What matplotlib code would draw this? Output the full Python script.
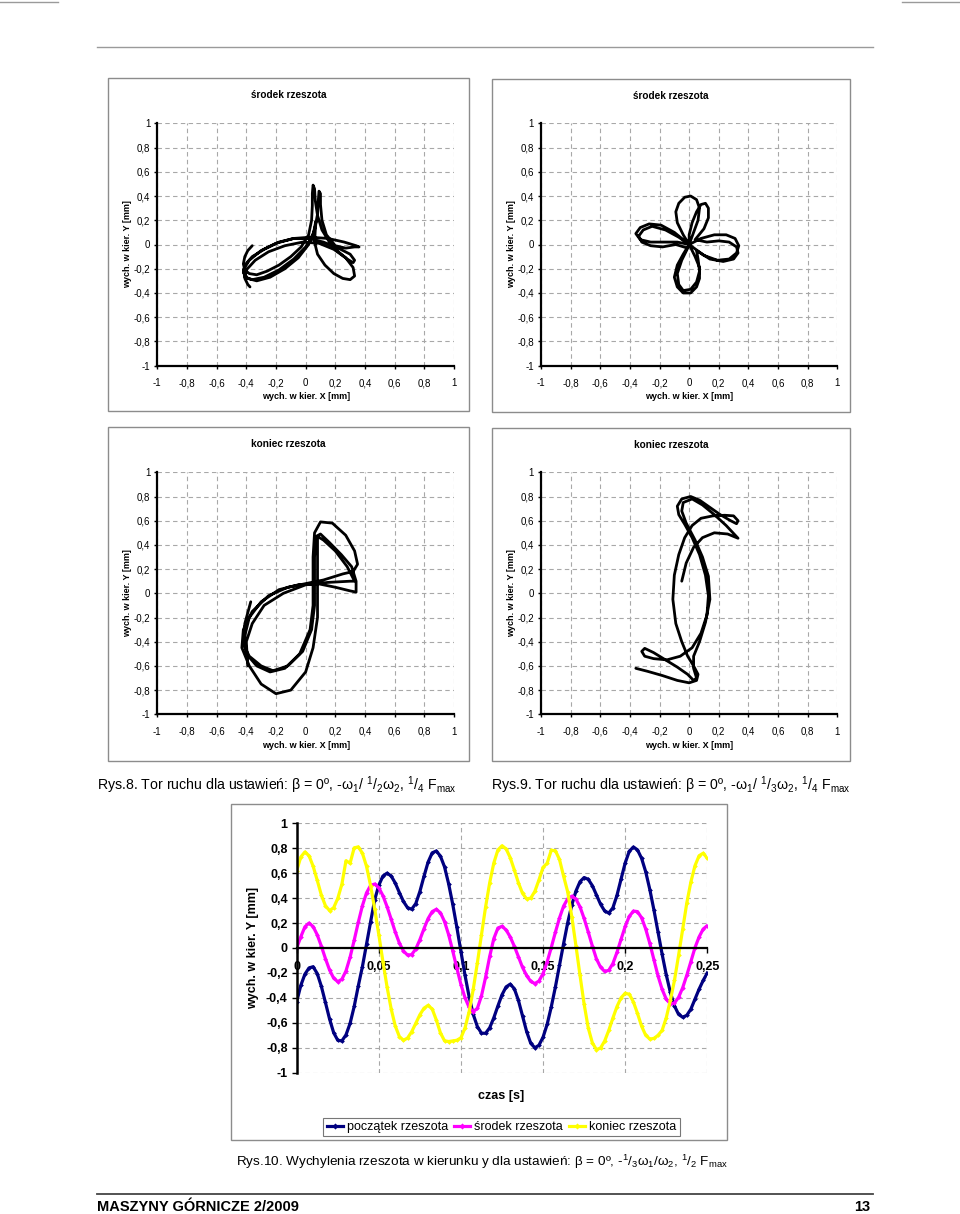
import matplotlib
matplotlib.use('Agg')
import matplotlib.pyplot as plt
from matplotlib.patches import Rectangle
from matplotlib.lines import Line2D
import numpy as np

plt.rcParams['font.family'] = ['Liberation Sans', 'DejaVu Sans']
plt.rcParams['mathtext.fontset'] = 'custom'
plt.rcParams['mathtext.rm'] = 'Liberation Sans'
plt.rcParams['mathtext.it'] = 'Liberation Sans'
plt.rcParams['mathtext.bf'] = 'Liberation Sans:bold'

# ---------------- data ----------------
axis_ticks = [-1, -0.8, -0.6, -0.4, -0.2, 0, 0.2, 0.4, 0.6, 0.8, 1]
axis_tick_labels = ['-1', '-0,8', '-0,6', '-0,4', '-0,2', '0', '0,2', '0,4', '0,6', '0,8', '1']

# Rys.8 srodek rzeszota (x, y)
r8_srodek = [
    (-0.36, -0.01), (-0.39, -0.05), (-0.41, -0.10), (-0.42, -0.16), (-0.41, -0.21), (-0.38, -0.24),
    (-0.33, -0.25), (-0.26, -0.22), (-0.18, -0.17), (-0.10, -0.10), (-0.03, -0.02), (0.02, 0.08),
    (0.04, 0.20), (0.045, 0.32), (0.045, 0.42), (0.05, 0.49), (0.06, 0.46), (0.065, 0.36), (0.08, 0.24),
    (0.11, 0.12), (0.16, 0.02), (0.22, -0.06), (0.28, -0.12), (0.32, -0.15), (0.33, -0.13), (0.30, -0.08),
    (0.22, -0.03), (0.12, 0.02), (0.02, 0.05), (-0.08, 0.05), (-0.18, 0.02), (-0.28, -0.04), (-0.36, -0.10),
    (-0.41, -0.17), (-0.42, -0.23), (-0.39, -0.28), (-0.33, -0.30), (-0.24, -0.27), (-0.14, -0.20),
    (-0.05, -0.11), (0.02, 0.0), (0.06, 0.12), (0.08, 0.25), (0.085, 0.36), (0.09, 0.44), (0.10, 0.42),
    (0.10, 0.33), (0.11, 0.20), (0.14, 0.08), (0.20, -0.01), (0.27, -0.03), (0.33, -0.02), (0.36, -0.02),
    (0.34, -0.01), (0.26, 0.02), (0.15, 0.05), (0.03, 0.06), (-0.08, 0.05), (-0.20, 0.01), (-0.30, -0.05),
    (-0.38, -0.13), (-0.42, -0.21), (-0.41, -0.27), (-0.36, -0.29), (-0.28, -0.27), (-0.18, -0.21),
    (-0.08, -0.12), (0.0, -0.02), (0.05, 0.08), (0.065, 0.17), (0.07, 0.19), (0.065, 0.12), (0.06, 0.02),
    (0.08, -0.08), (0.13, -0.17), (0.19, -0.24), (0.25, -0.28), (0.30, -0.29), (0.33, -0.26), (0.32, -0.19),
    (0.27, -0.11), (0.19, -0.04), (0.09, 0.01), (-0.02, 0.02), (-0.14, -0.01), (-0.25, -0.06), (-0.34, -0.13),
    (-0.40, -0.21), (-0.41, -0.28), (-0.39, -0.33), (-0.375, -0.35)]

# Rys.9 srodek rzeszota
r9_srodek = [
    (0, 0), (-0.04, 0.08), (-0.08, 0.18), (-0.09, 0.27), (-0.07, 0.34), (-0.03, 0.39), (0.01, 0.40),
    (0.05, 0.37), (0.07, 0.30), (0.06, 0.20), (0.03, 0.10), (0.0, 0.0),
    (0.08, 0.05), (0.17, 0.08), (0.25, 0.08), (0.31, 0.05), (0.335, -0.01), (0.32, -0.07), (0.27, -0.12),
    (0.19, -0.13), (0.10, -0.09), (0.0, 0.0),
    (0.04, -0.10), (0.07, -0.19), (0.07, -0.28), (0.05, -0.35), (0.01, -0.40), (-0.04, -0.40), (-0.08, -0.35),
    (-0.10, -0.27), (-0.08, -0.17), (-0.04, -0.08), (0.0, 0.0),
    (-0.08, 0.02), (-0.17, 0.02), (-0.26, 0.02), (-0.33, 0.04), (-0.36, 0.09), (-0.33, 0.14), (-0.27, 0.17),
    (-0.19, 0.16), (-0.10, 0.10), (0.0, 0.0),
    (0.0, 0.08), (0.02, 0.18), (0.05, 0.27), (0.08, 0.33), (0.11, 0.34), (0.13, 0.30), (0.13, 0.22),
    (0.10, 0.13), (0.04, 0.04),
    (0.12, 0.02), (0.20, 0.03), (0.27, 0.02), (0.32, -0.02), (0.33, -0.07), (0.30, -0.12), (0.23, -0.14),
    (0.14, -0.12), (0.05, -0.05),
    (0.06, -0.12), (0.07, -0.22), (0.05, -0.31), (0.01, -0.37), (-0.04, -0.38), (-0.07, -0.33), (-0.08, -0.24),
    (-0.05, -0.13), (-0.01, -0.03),
    (-0.09, 0.0), (-0.18, -0.02), (-0.26, -0.01), (-0.32, 0.02), (-0.34, 0.07), (-0.31, 0.12), (-0.25, 0.15),
    (-0.16, 0.12), (-0.07, 0.06), (0.0, 0.0)]

# Rys.8 koniec rzeszota
r8_koniec = [
    (-0.37, -0.07), (-0.41, -0.25), (-0.42, -0.42), (-0.38, -0.52), (-0.30, -0.60), (-0.22, -0.64),
    (-0.12, -0.60), (-0.02, -0.48), (0.04, -0.30), (0.06, -0.10), (0.06, 0.10), (0.06, 0.30), (0.07, 0.47),
    (0.10, 0.49), (0.16, 0.42), (0.24, 0.32), (0.31, 0.22), (0.34, 0.10), (0.34, 0.01), (0.30, 0.02),
    (0.20, 0.05), (0.08, 0.08), (-0.05, 0.07), (-0.18, 0.03), (-0.30, -0.07), (-0.38, -0.20), (-0.41, -0.35),
    (-0.40, -0.50), (-0.33, -0.60), (-0.24, -0.65), (-0.14, -0.62), (-0.04, -0.50), (0.03, -0.30),
    (0.05, -0.10), (0.05, 0.10), (0.05, 0.30), (0.06, 0.50), (0.10, 0.59), (0.18, 0.58), (0.27, 0.48),
    (0.33, 0.35), (0.35, 0.24), (0.32, 0.18), (0.25, 0.16), (0.12, 0.11), (0.0, 0.08), (-0.12, 0.05),
    (-0.25, -0.02), (-0.36, -0.15), (-0.42, -0.30), (-0.43, -0.45), (-0.38, -0.60), (-0.30, -0.75),
    (-0.20, -0.83), (-0.10, -0.80), (0.0, -0.65), (0.05, -0.45), (0.08, -0.20), (0.08, 0.05), (0.08, 0.30),
    (0.08, 0.47), (0.12, 0.44), (0.20, 0.35), (0.28, 0.22), (0.33, 0.10), (0.30, 0.10), (0.15, 0.09),
    (0.0, 0.07), (-0.15, 0.0), (-0.28, -0.10), (-0.36, -0.25), (-0.40, -0.40), (-0.39, -0.60)]

# Rys.9 koniec rzeszota
r9_koniec = [
    (-0.36, -0.62), (-0.28, -0.645), (-0.18, -0.68), (-0.08, -0.72), (0.0, -0.74), (0.05, -0.72),
    (0.06, -0.67), (0.03, -0.60), (-0.01, -0.52), (-0.05, -0.40), (-0.09, -0.25), (-0.11, -0.05),
    (-0.10, 0.15), (-0.07, 0.32), (-0.03, 0.46), (0.02, 0.56), (0.08, 0.62), (0.16, 0.64), (0.24, 0.645),
    (0.30, 0.64), (0.33, 0.60), (0.32, 0.575), (0.28, 0.60), (0.21, 0.65), (0.14, 0.71), (0.07, 0.77),
    (0.01, 0.80), (-0.05, 0.78), (-0.08, 0.72), (-0.07, 0.65), (-0.03, 0.57), (0.02, 0.46), (0.07, 0.32),
    (0.11, 0.15), (0.13, -0.02), (0.12, -0.18), (0.08, -0.33), (0.02, -0.45), (-0.06, -0.52), (-0.15, -0.55),
    (-0.24, -0.54), (-0.30, -0.52), (-0.32, -0.48), (-0.30, -0.455), (-0.24, -0.49), (-0.16, -0.55),
    (-0.08, -0.61), (-0.01, -0.67), (0.03, -0.72), (0.05, -0.70), (0.03, -0.62), (0.03, -0.52), (0.07, -0.40),
    (0.11, -0.24), (0.14, -0.05), (0.13, 0.14), (0.09, 0.30), (0.04, 0.44), (-0.02, 0.58), (-0.05, 0.68),
    (-0.04, 0.75), (0.02, 0.78), (0.09, 0.73), (0.17, 0.65), (0.25, 0.56), (0.33, 0.455), (0.26, 0.49),
    (0.17, 0.50), (0.09, 0.46), (0.03, 0.38), (-0.02, 0.25), (-0.05, 0.10)]

# Rys.10 time series
czas = [round(i * 0.0025, 4) for i in range(101)]
poczatek = [
    -0.43, -0.30, -0.21, -0.16, -0.15, -0.205, -0.307, -0.437, -0.569, -0.679,
    -0.74, -0.745, -0.697, -0.605, -0.469, -0.304, -0.15, 0.03, 0.21, 0.387,
    0.504, 0.577, 0.60, 0.578, 0.521, 0.445, 0.373, 0.323, 0.311, 0.356,
    0.453, 0.575, 0.689, 0.763, 0.778, 0.737, 0.651, 0.515, 0.351, 0.167,
    -0.029, -0.22, -0.392, -0.533, -0.63, -0.683, -0.684, -0.64, -0.56, -0.465,
    -0.375, -0.312, -0.29, -0.326, -0.42, -0.545, -0.67, -0.764, -0.80, -0.78,
    -0.715, -0.612, -0.472, -0.313, -0.139, 0.035, 0.203, 0.345, 0.456, 0.532,
    0.565, 0.551, 0.50, 0.426, 0.351, 0.297, 0.28, 0.322, 0.422, 0.553,
    0.682, 0.776, 0.81, 0.787, 0.719, 0.611, 0.469, 0.305, 0.128, -0.05,
    -0.214, -0.356, -0.464, -0.532, -0.555, -0.54, -0.49, -0.41, -0.33, -0.26,
    -0.20]
srodek = [
    0.0, 0.09, 0.17, 0.20, 0.172, 0.106, 0.015, -0.085, -0.176, -0.242,
    -0.27, -0.251, -0.184, -0.074, 0.062, 0.206, 0.339, 0.442, 0.502, 0.513,
    0.483, 0.42, 0.332, 0.232, 0.129, 0.04, -0.024, -0.057, -0.053, -0.008,
    0.067, 0.155, 0.236, 0.292, 0.31, 0.283, 0.212, 0.107, -0.023, -0.161,
    -0.293, -0.40, -0.476, -0.51, -0.484, -0.384, -0.235, -0.068, 0.075, 0.16,
    0.174, 0.145, 0.089, 0.014, -0.07, -0.156, -0.221, -0.268, -0.285, -0.265,
    -0.205, -0.111, 0.004, 0.126, 0.241, 0.336, 0.395, 0.415, 0.393, 0.33,
    0.237, 0.129, 0.016, -0.087, -0.154, -0.188, -0.179, -0.125, -0.035, 0.07,
    0.173, 0.254, 0.296, 0.292, 0.242, 0.152, 0.037, -0.094, -0.224, -0.332,
    -0.41, -0.448, -0.441, -0.396, -0.319, -0.219, -0.109, 0.003, 0.089, 0.152,
    0.18]
koniec = [
    0.62, 0.73, 0.77, 0.74, 0.656, 0.543, 0.425, 0.339, 0.30, 0.323,
    0.398, 0.511, 0.70, 0.68, 0.803, 0.811, 0.761, 0.655, 0.50, 0.313,
    0.106, -0.109, -0.311, -0.487, -0.625, -0.71, -0.74, -0.722, -0.672, -0.604,
    -0.535, -0.483, -0.46, -0.489, -0.577, -0.68, -0.744, -0.75, -0.745, -0.74,
    -0.72, -0.64, -0.51, -0.33, -0.12, 0.106, 0.329, 0.523, 0.681, 0.786,
    0.82, 0.795, 0.725, 0.626, 0.523, 0.438, 0.394, 0.40, 0.454, 0.546,
    0.647, 0.68, 0.784, 0.78, 0.71, 0.576, 0.45, 0.25, 0.02, -0.22,
    -0.45, -0.64, -0.76, -0.815, -0.802, -0.746, -0.661, -0.562, -0.47, -0.399,
    -0.363, -0.371, -0.432, -0.525, -0.627, -0.70, -0.73, -0.725, -0.70, -0.66,
    -0.56, -0.42, -0.26, -0.06, 0.15, 0.36, 0.53, 0.66, 0.74, 0.76,
    0.72]
series_names = ['początek rzeszota', 'środek rzeszota', 'koniec rzeszota']
series_colors = ['#000080', '#FF00FF', '#FFFF00']
time_ticks = [0, 0.05, 0.1, 0.15, 0.2, 0.25]
time_tick_labels = ['0', '0,05', '0,1', '0,15', '0,2', '0,25']

# ---------------- figure ----------------
W, H = 960, 1214
fig = plt.figure(figsize=(W / 100, H / 100), dpi=100)


def fx(px):
    return px / W


def fy(py):
    return 1 - py / H


def axes_px(l, t, r, b):
    return fig.add_axes([l / W, 1 - b / H, (r - l) / W, (b - t) / H])


def hline(x0, x1, y, color, lw):
    fig.add_artist(Line2D([fx(x0), fx(x1)], [fy(y), fy(y)], transform=fig.transFigure,
                          color=color, lw=lw))


def box(l, t, r, b, color='#8c8c8c', lw=1.0):
    fig.add_artist(Rectangle((fx(l), fy(b)), (r - l) / W, (b - t) / H, transform=fig.transFigure,
                             fill=False, ec=color, lw=lw))


GRID = dict(color='#a8a8a8', lw=0.8, ls=(0, (4, 3)))


def xy_panel(bx, ar, title, pts):
    l, t, r, b = bx
    box(l, t, r, b)
    ax = axes_px(*ar)
    xs = [p[0] for p in pts]
    ys = [p[1] for p in pts]
    ax.plot(xs, ys, color='black', lw=2.0, solid_joinstyle='round', solid_capstyle='round')
    ax.set_xlim(-1, 1)
    ax.set_ylim(-1, 1)
    ax.set_xticks(axis_ticks)
    ax.set_yticks(axis_ticks)
    ax.set_xticklabels(axis_tick_labels)
    ax.set_yticklabels(axis_tick_labels)
    ax.grid(True, **GRID)
    ax.set_axisbelow(True)
    for s in ['top', 'right']:
        ax.spines[s].set_visible(False)
    for s in ['left', 'bottom']:
        ax.spines[s].set_linewidth(1.6)
    ax.tick_params(axis='x', direction='out', length=2.5, width=1.0, labelsize=7, pad=6.5)
    ax.tick_params(axis='y', direction='out', length=2.5, width=1.0, labelsize=7, pad=2.5)
    cx = (l + r) / 2
    fig.text(fx(cx), fy(t + 17), title, ha='center', va='center', fontsize=7.2, fontweight='bold')
    axc = (ar[0] + ar[2]) / 2
    fig.text(fx(axc), fy(ar[3] + 31), 'wych. w kier. X [mm]', ha='center', va='center',
             fontsize=6.5, fontweight='bold')
    fig.text(fx(l + 19.5), fy((ar[1] + ar[3]) / 2), 'wych. w kier. Y [mm]', ha='center', va='center',
             rotation=90, fontsize=6.5, fontweight='bold')
    return ax


# top rule and corner marks
hline(97, 873, 47, '#9a9a9a', 1.0)
hline(0, 58, 1.5, '#9a9a9a', 1.0)
hline(902, 960, 1.5, '#9a9a9a', 1.0)

xy_panel((108, 78, 469, 411), (157.3, 123.3, 454, 365.7), 'środek rzeszota', r8_srodek)
xy_panel((492, 79, 850, 412), (541, 123.3, 837.3, 365.7), 'środek rzeszota', r9_srodek)
xy_panel((108, 427, 469, 761), (157.3, 472.3, 454, 714.3), 'koniec rzeszota', r8_koniec)
xy_panel((492, 428, 850, 761), (541, 472.3, 837.3, 714.3), 'koniec rzeszota', r9_koniec)

CAPFAM = ['Liberation Sans Narrow', 'Liberation Sans', 'DejaVu Sans']
fig.text(fx(97), fy(785),
         'Rys.8. Tor ruchu dla ustawień: β = 0º, -ω$_1$/ $^1$/$_2$ω$_2$, $^1$/$_4$ F$_{\\mathrm{max}}$',
         ha='left', va='center', fontsize=10.2, family=CAPFAM)
fig.text(fx(491), fy(785),
         'Rys.9. Tor ruchu dla ustawień: β = 0º, -ω$_1$/ $^1$/$_3$ω$_2$, $^1$/$_4$ F$_{\\mathrm{max}}$',
         ha='left', va='center', fontsize=10.2, family=CAPFAM)

# ---------------- Rys.10 ----------------
box(231, 804, 727, 1140)
ax = axes_px(296.7, 823.3, 707.3, 1072.7)
for vals, name, col in zip([poczatek, srodek, koniec], series_names, series_colors):
    ax.plot(czas, vals, color=col, lw=2.3, marker='D', ms=2.4, mew=0, label=name)
ax.set_xlim(0, 0.25)
ax.set_ylim(-1, 1)
ax.set_xticks(time_ticks)
ax.set_xticklabels(time_tick_labels)
ax.set_yticks(axis_ticks)
ax.set_yticklabels(axis_tick_labels)
ax.grid(True, **GRID)
ax.set_axisbelow(True)
for s in ['top', 'right']:
    ax.spines[s].set_visible(False)
ax.spines['bottom'].set_position(('data', 0))
ax.spines['bottom'].set_linewidth(1.6)
ax.spines['left'].set_linewidth(1.8)
ax.tick_params(axis='x', direction='out', length=3.5, width=1.0, labelsize=9, pad=6)
ax.tick_params(axis='y', direction='out', length=3.5, width=1.0, labelsize=9, pad=3)
for lab in ax.get_xticklabels() + ax.get_yticklabels():
    lab.set_fontweight('bold')
fig.text(fx(501.5), fy(1096), 'czas [s]', ha='center', va='center', fontsize=9, fontweight='bold')
fig.text(fx(253), fy(948), 'wych. w kier. Y [mm]', ha='center', va='center', rotation=90,
         fontsize=9, fontweight='bold')
leg = fig.legend(loc='center', bbox_to_anchor=(fx(501.5), fy(1127)), ncol=3, fontsize=9,
                 frameon=True, fancybox=False, edgecolor='#555555', handlelength=1.3,
                 handletextpad=0.3, columnspacing=0.5, borderpad=0.25, markerscale=1.3)
leg.get_frame().set_linewidth(0.8)

fig.text(fx(236), fy(1162),
         'Rys.10. Wychylenia rzeszota w kierunku y dla ustawień: β = 0º, -$^1$/$_3$ω$_1$/ω$_2$, $^1$/$_2$ F$_{\\mathrm{max}}$',
         ha='left', va='center', fontsize=9.7, family=CAPFAM)

# footer
hline(97, 873, 1194, '#444444', 1.3)
fig.text(fx(97), fy(1207), 'MASZYNY GÓRNICZE 2/2009', ha='left', va='center', fontsize=10.5,
         fontweight='bold', family=CAPFAM)
fig.text(fx(870), fy(1207), '13', ha='right', va='center', fontsize=10.5, fontweight='bold', family=CAPFAM)

fig.savefig('out.png', dpi=100, facecolor='white')
